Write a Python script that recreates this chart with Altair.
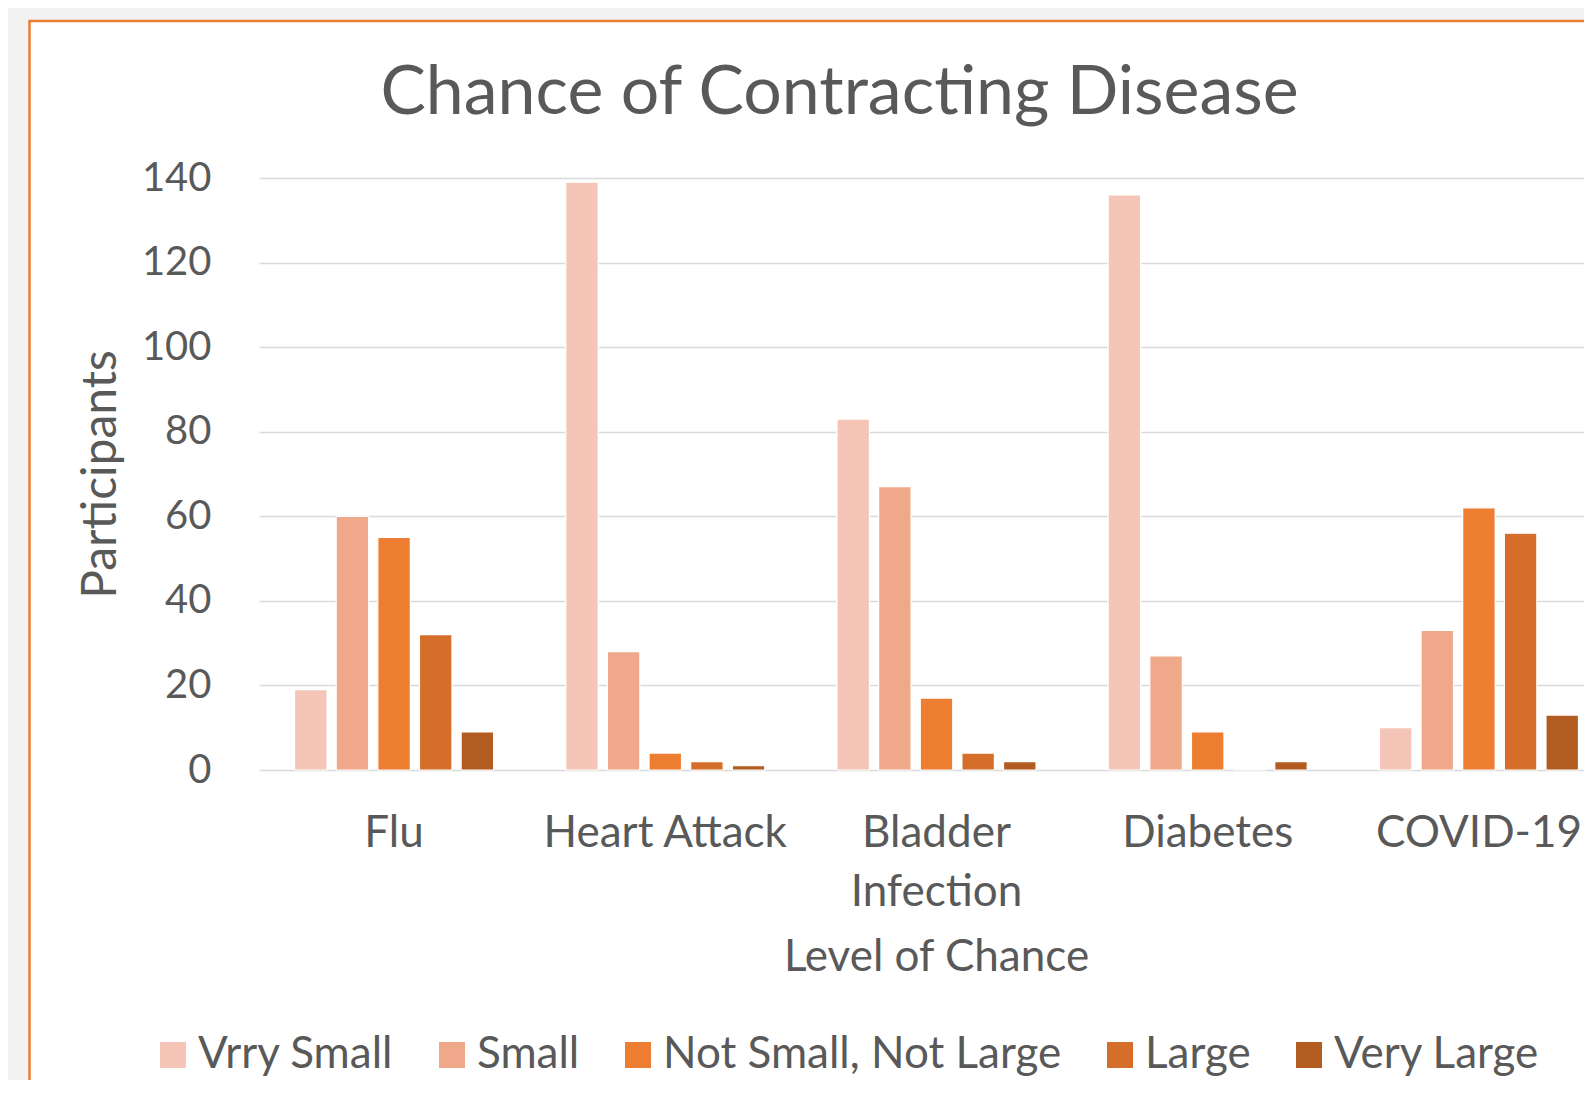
import altair as alt
import pandas as pd

diseases = ["Flu", "Heart Attack", "Bladder Infection", "Diabetes", "COVID-19"]
levels = ["Vrry Small", "Small", "Not Small, Not Large", "Large", "Very Large"]
very_small = [19, 139, 83, 136, 10]
small = [60, 28, 67, 27, 33]
neutral = [55, 4, 17, 9, 62]
large = [32, 2, 4, 0, 56]
very_large = [9, 1, 2, 2, 13]
level_colors = ["#F5C6B7", "#F0A88A", "#ED7D31", "#D46E2A", "#B35C22"]
y_ticks = [0, 20, 40, 60, 80, 100, 120, 140]

series = [very_small, small, neutral, large, very_large]
rows = []
for lev, vals in zip(levels, series):
    for d, v in zip(diseases, vals):
        rows.append({"Disease": d, "Level": lev, "Participants": v})
df = pd.DataFrame(rows)

W = 1325
H = 592
FONT = "Lato"
TXT = "#595959"

bars = alt.Chart(df).mark_bar(stroke="white", strokeWidth=1.2).encode(
    x=alt.X(
        "Disease:N",
        sort=diseases,
        scale=alt.Scale(range=[0, 1355], paddingInner=0.266, paddingOuter=0.131),
        axis=alt.Axis(
            title="Level of Chance",
            labelAngle=0,
            labelFont=FONT,
            labelFontSize=44,
            labelColor=TXT,
            labelPadding=41,
            labelLineHeight=59,
            labelLimit=600,
            labelExpr="datum.label == 'Bladder Infection' ? ['Bladder', 'Infection'] : datum.label",
            domain=False,
            ticks=False,
            titleFont=FONT,
            titleFontSize=44,
            titleFontWeight="normal",
            titleColor=TXT,
            titleX=677,
            titleY=187,
            titleBaseline="middle",
        ),
    ),
    xOffset=alt.XOffset(
        "Level:N", sort=levels, scale=alt.Scale(paddingInner=0.22, paddingOuter=0)
    ),
    y=alt.Y(
        "Participants:Q",
        scale=alt.Scale(domain=[0, 140], nice=False),
        axis=alt.Axis(
            values=y_ticks,
            title="Participants",
            labelFont=FONT,
            labelFontSize=40,
            labelColor=TXT,
            labelPadding=48,
            domain=False,
            ticks=False,
            grid=True,
            gridColor="#D9D9D9",
            gridWidth=1.5,
            titleFont=FONT,
            titleFontSize=48,
            titleFontWeight="normal",
            titleColor=TXT,
            titleX=-158,
            titleY=296,
            titleBaseline="middle",
        ),
    ),
    color=alt.Color(
        "Level:N",
        sort=levels,
        scale=alt.Scale(domain=levels, range=level_colors),
        legend=alt.Legend(
            title=None,
            orient="none",
            legendX=-108,
            legendY=855,
            direction="horizontal",
            symbolType="square",
            symbolSize=676,
            symbolStrokeWidth=0,
            labelFont=FONT,
            labelFontSize=44,
            labelColor=TXT,
            labelOffset=3,
            columnPadding=36,
            labelLimit=600,
        ),
    ),
)

frame_df = pd.DataFrame({"k": [0]})
left_strip = alt.Chart(frame_df).mark_rect(color="#F2F2F2").encode(
    x=alt.value(-251), x2=alt.value(-229.5), y=alt.value(-170), y2=alt.value(H + 400)
)
top_strip = alt.Chart(frame_df).mark_rect(color="#F2F2F2").encode(
    x=alt.value(-251), x2=alt.value(W + 50), y=alt.value(-170), y2=alt.value(-157)
)
border = alt.Chart(frame_df).mark_rect(
    fillOpacity=0, stroke="#ED7D31", strokeWidth=2.5
).encode(
    x=alt.value(-229.5), x2=alt.value(W + 50), y=alt.value(-157), y2=alt.value(H + 400)
)

chart = alt.layer(left_strip, top_strip, border, bars).properties(
    width=W,
    height=H,
    title=alt.TitleParams(
        text="Chance of Contracting Disease",
        font=FONT,
        fontSize=68,
        fontWeight="normal",
        color=TXT,
        anchor="middle",
        dx=-82,
        dy=160,
        offset=40,
    ),
    autosize=alt.AutoSizeParams(type="none"),
    padding={"left": 251, "top": 170, "right": 0, "bottom": 310},
    background="white",
).configure_view(stroke=None)

chart.save("out.html", embed_options={"renderer": "svg", "actions": False})
